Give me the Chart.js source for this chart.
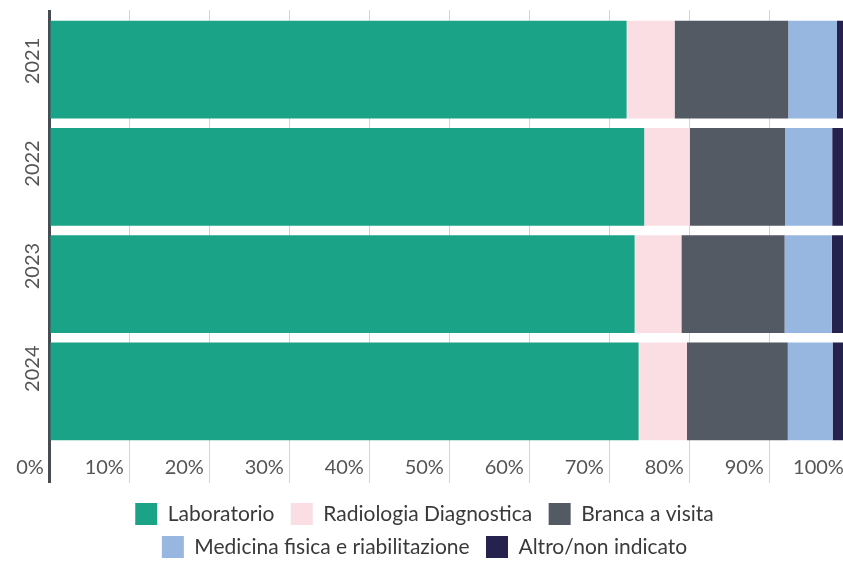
<!DOCTYPE html>
<html>
<head>
<meta charset="utf-8">
<script src="https://cdn.jsdelivr.net/npm/chart.js@4"></script>
<style>
html, body { margin:0; padding:0; background:#fff; overflow:hidden; }
#wrap { width:858px; height:568px; }
</style>
</head>
<body>
<div id="wrap"><canvas id="chart"></canvas></div>
<script>
// dati (percentuali)
const years = ['2021', '2022', '2023', '2024'];
const laboratorio = [72.2, 74.4, 73.2, 73.7];
const radiologia = [6.0, 5.7, 5.85, 6.05];
const branca = [14.2, 11.9, 12.9, 12.6];
const medicina = [6.1, 5.9, 5.9, 5.6];
const altro = [1.5, 2.1, 2.1, 2.0];
const xTicks = [0, 10, 20, 30, 40, 50, 60, 70, 80, 90, 100];

const axisColor = '#474b52';
const gridColor = '#d4d4d4';
const labelColor = '#555';

const gridLine = {
    color: c => (c.tick && c.tick.value === 0) ? axisColor : gridColor,
    lineWidth: c => (c.tick && c.tick.value === 0) ? 3 : 1
};

function setXTicks(scale){
    scale.ticks = xTicks.map(v => ({ value: v }));
}

new Chart(document.getElementById('chart'), {
    type: 'bar',
    data: {
        labels: years,
        datasets: [
            { label: 'Laboratorio', data: laboratorio, backgroundColor: '#1aa387' },
            { label: 'Radiologia Diagnostica', data: radiologia, backgroundColor: '#fbdde4' },
            { label: 'Branca a visita', data: branca, backgroundColor: '#535a64' },
            { label: 'Medicina fisica e riabilitazione', data: medicina, backgroundColor: '#98b7e0' },
            { label: 'Altro/non indicato', data: altro, backgroundColor: '#25234e' }
        ]
    },
    options: {
        indexAxis: 'y',
        responsive: true,
        maintainAspectRatio: false,
        animation: false,
        barPercentage: 0.912,
        categoryPercentage: 1,
        layout: { padding: { top: 10, right: 9, left: 0, bottom: 0 } },
        plugins: {
            tooltip: { enabled: false },
            legend: {
                position: 'bottom',
                labels: {
                    boxWidth: 22,
                    boxHeight: 22,
                    padding: 11,
                    color: '#3a3a3a',
                    font: { family: 'Lato', size: 21 },
                    generateLabels: chart => {
                        const items = Chart.defaults.plugins.legend.labels.generateLabels(chart);
                        items.forEach((it, i) => {
                            it.lineWidth = 0;
                            if (i === 0 || i === 1 || i === 3) it.text += ' ';
                        });
                        return items;
                    }
                }
            }
        },
        scales: {
            x: {
                type: 'linear',
                stacked: true,
                min: 0,
                max: 100,
                afterBuildTicks: setXTicks,
                afterFit: s => { s.height = 47; },
                border: { display: false },
                grid: { ...gridLine, tickLength: 38 },
                ticks: {
                    align: 'end',
                    padding: -27,
                    autoSkip: false,
                    maxRotation: 0,
                    color: labelColor,
                    font: { family: 'Lato', size: 20 },
                    callback: v => v + '% '
                }
            },
            xTop: {
                type: 'linear',
                position: 'top',
                min: 0,
                max: 100,
                afterBuildTicks: setXTicks,
                border: { display: false },
                grid: { ...gridLine, drawOnChartArea: false, tickLength: 6 },
                ticks: { display: false }
            },
            y: {
                stacked: true,
                display: false
            },
            yLab: {
                type: 'linear',
                position: 'left',
                reverse: true,
                offset: false,
                min: -0.438,
                max: 3.744,
                z: 1,
                afterBuildTicks: s => { s.ticks = years.map((y, i) => ({ value: i })); },
                afterFit: s => { s.width = 49; },
                border: { display: true, color: axisColor, width: 3 },
                grid: { display: false, drawTicks: false },
                ticks: {
                    minRotation: 90,
                    maxRotation: 90,
                    crossAlign: 'center',
                    padding: -7,
                    color: labelColor,
                    font: { family: 'Lato', size: 20 },
                    callback: v => years[v]
                }
            }
        }
    }
});
</script>
</body>
</html>
